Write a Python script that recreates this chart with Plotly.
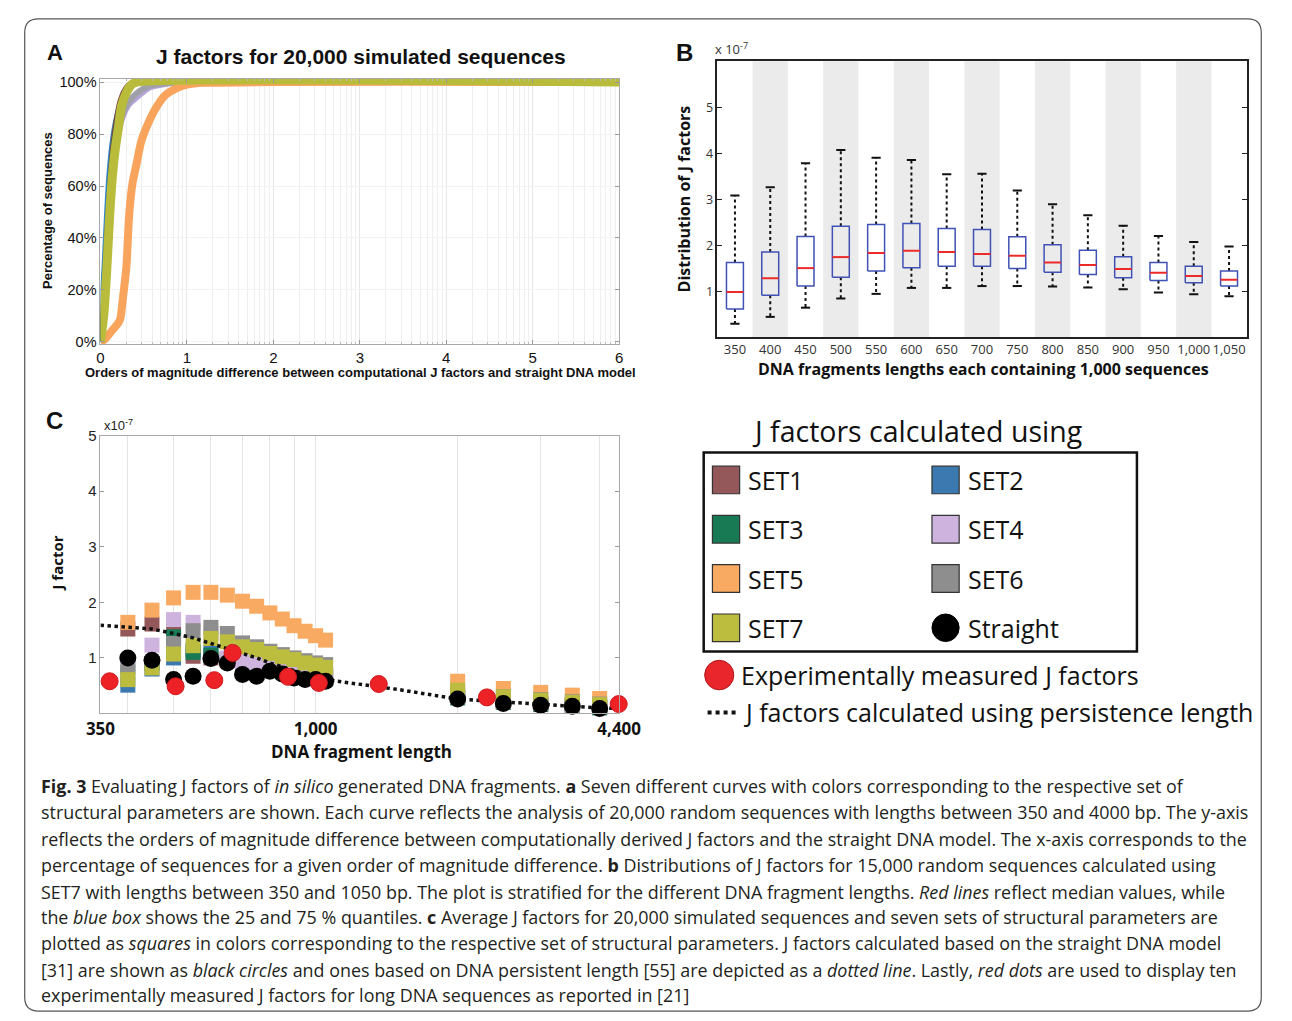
import math
import numpy as np
import plotly.graph_objects as go

W, H = 1292, 1021
def px(v): return v / W
def py(v): return 1 - v / H

SERIF = "Liberation Sans"
HUM = "Open Sans"

# ---------------- Panel A data (cumulative % of sequences) ----------------
a_set1_x = [0, 0.02, 0.05, 0.08, 0.11, 0.14, 0.18, 0.22, 0.28, 0.35, 6]
a_set1_y = [0, 8, 25, 45, 62, 75, 85, 92, 97, 99.5, 100]
a_set2_x = [0, 0.005, 0.03, 0.057, 0.083, 0.12, 0.17, 0.245, 0.34, 0.45, 6]
a_set2_y = [0, 15, 29, 48, 63, 76, 86, 94, 99, 100, 100]
a_set3_x = [0, 0.03, 0.06, 0.09, 0.12, 0.15, 0.19, 0.23, 0.28, 0.34, 0.4, 6]
a_set3_y = [0, 12, 30, 49, 64, 75, 84, 91, 96, 99, 100, 100]
a_set4_x = [0, 0.04, 0.07, 0.1, 0.13, 0.17, 0.21, 0.26, 0.32, 0.38, 0.45, 0.57, 0.7, 0.9, 6]
a_set4_y = [0, 10, 27, 45, 60, 72, 81, 87, 91, 93, 95, 98, 99, 99.8, 100]
a_set5_x = [0, 0.05, 0.1, 0.15, 0.2, 0.23, 0.26, 0.3, 0.33, 0.37, 0.42, 0.47, 0.55, 0.64, 0.75, 0.87, 1.0, 1.2, 6]
a_set5_y = [0, 1, 3, 5, 7, 9, 17, 29, 48, 61, 69, 77, 84, 90, 95, 97.5, 99, 99.7, 100]
a_set6_x = [0, 0.04, 0.07, 0.1, 0.13, 0.17, 0.21, 0.26, 0.32, 0.38, 0.45, 0.55, 0.7, 0.9, 6]
a_set6_y = [0, 11, 28, 46, 61, 73, 82, 88, 92, 94.5, 96.5, 98.3, 99.3, 99.8, 100]
a_set7_x = [0, 0.04, 0.075, 0.105, 0.136, 0.17, 0.21, 0.245, 0.30, 0.36, 0.415, 6]
a_set7_y = [0, 11, 29, 48, 63, 74, 83, 91, 96, 99, 100, 100]
a_xticks = [0, 1, 2, 3, 4, 5, 6]
a_yticks = [0, 20, 40, 60, 80, 100]

# ---------------- Panel B data (x 1e-7) ----------------
b_labels = ["350", "400", "450", "500", "550", "600", "650", "700", "750", "800",
            "850", "900", "950", "1,000", "1,050"]
b_upper = [3.08, 3.26, 3.78, 4.07, 3.90, 3.85, 3.54, 3.55, 3.19, 2.89, 2.65, 2.42, 2.20, 2.07, 1.97]
b_q3 = [1.62, 1.85, 2.19, 2.41, 2.45, 2.47, 2.36, 2.34, 2.18, 2.01, 1.89, 1.75, 1.62, 1.54, 1.44]
b_median = [0.98, 1.28, 1.50, 1.74, 1.83, 1.88, 1.85, 1.81, 1.77, 1.62, 1.57, 1.48, 1.40, 1.33, 1.25]
b_q1 = [0.61, 0.91, 1.11, 1.30, 1.44, 1.51, 1.54, 1.54, 1.49, 1.41, 1.36, 1.29, 1.23, 1.18, 1.11]
b_lower = [0.29, 0.44, 0.64, 0.84, 0.94, 1.07, 1.07, 1.11, 1.11, 1.10, 1.08, 1.04, 0.97, 0.93, 0.89]
b_yticks = [1, 2, 3, 4, 5]

# ---------------- Panel C data (x 1e-7) ----------------
c_x = [350, 400, 450, 500, 550, 600, 650, 700, 750, 800, 850, 900, 950, 1000, 1050,
       2000, 2500, 3000, 3500, 4000]
c_set1 = [1.40, 1.52, 1.61, 1.50, 1.03, 1.00, 0.95, 0.88, 0.84, 0.80, 0.76, 0.72, 0.70, 0.68, 0.66,
          0.30, 0.21, 0.17, 0.14, 0.11]
c_set2 = [0.65, 0.51, 0.80, 1.00, 1.15, 1.10, 0.98, 0.91, 0.88, 0.85, 0.80, 0.76, 0.73, 0.70, 0.68,
          0.30, 0.22, 0.18, 0.15, 0.12]
c_set3 = [1.15, 0.84, 0.90, 1.38, 1.10, 1.05, 0.98, 0.90, 0.85, 0.80, 0.75, 0.70, 0.66, 0.64, 0.62,
          0.28, 0.20, 0.16, 0.13, 0.10]
c_set4 = [0.88, 0.95, 1.23, 1.69, 1.64, 1.45, 1.00, 0.93, 0.92, 0.88, 0.80, 0.75, 0.72, 0.70, 0.68,
          0.30, 0.22, 0.18, 0.15, 0.12]
c_set5 = [1.52, 1.64, 1.86, 2.08, 2.18, 2.18, 2.13, 2.02, 1.93, 1.81, 1.70, 1.58, 1.48, 1.40, 1.32,
          0.58, 0.45, 0.38, 0.33, 0.27]
c_set6 = [1.38, 0.75, 0.90, 1.26, 1.49, 1.55, 1.44, 1.27, 1.20, 1.12, 1.06, 1.00, 0.95, 0.91, 0.88,
          0.40, 0.30, 0.25, 0.21, 0.17]
c_set7 = [0.50, 0.61, 0.82, 1.07, 1.22, 1.35, 1.29, 1.20, 1.15, 1.08, 1.02, 0.97, 0.91, 0.87, 0.83,
          0.42, 0.30, 0.24, 0.20, 0.16]
c_straight = [0.35, 1.00, 0.96, 0.61, 0.67, 0.99, 0.91, 0.70, 0.67, 0.76, 0.71, 0.64, 0.61, 0.61, 0.58,
              0.26, 0.18, 0.15, 0.13, 0.09]
c_exp_x = [366, 505, 610, 667, 874, 1016, 1361, 2307, 4390]
c_exp_y = [0.58, 0.49, 0.60, 1.09, 0.66, 0.55, 0.53, 0.29, 0.17]
c_pl_x = [350, 400, 450, 500, 550, 600, 650, 700, 750, 800, 850, 900, 950, 1000, 1050,
          1500, 2000, 2500, 3000, 3500, 4000, 4400]
c_pl_y = [1.59, 1.55, 1.52, 1.44, 1.36, 1.26, 1.17, 1.09, 1.00, 0.91, 0.84, 0.77, 0.70, 0.65, 0.61,
          0.43, 0.26, 0.21, 0.16, 0.13, 0.10, 0.09]
c_xtickvals = [350, 1000, 4400]
c_xticktext = ["350", "1,000", "4,400"]
c_yticks = [1, 2, 3, 4, 5]

set_names = ["SET1", "SET2", "SET3", "SET4", "SET5", "SET6", "SET7"]
set_colors = ["#94575a", "#3c79b0", "#177a54", "#cdb3dd", "#f9aa62", "#8e8e8e", "#bcbd3f"]
a_line_colors = ["#7e4345", "#2f86c8", "#1b7a4e", "#b6a4d8", "#f8a45c", "#a0a0a8", "#b8bc3a"]

fig = go.Figure()

# ---------------- Panel A traces ----------------
a_data = {
    "SET1": (a_set1_x, a_set1_y), "SET2": (a_set2_x, a_set2_y), "SET3": (a_set3_x, a_set3_y),
    "SET4": (a_set4_x, a_set4_y), "SET5": (a_set5_x, a_set5_y), "SET6": (a_set6_x, a_set6_y),
    "SET7": (a_set7_x, a_set7_y),
}
a_widths = {"SET1": 5, "SET2": 3, "SET3": 5, "SET4": 6, "SET5": 8, "SET6": 6, "SET7": 9}
for name in ["SET4", "SET6", "SET5", "SET2", "SET1", "SET3", "SET7"]:
    i = set_names.index(name)
    xs, ys = a_data[name]
    fig.add_trace(go.Scatter(x=xs, y=ys, mode="lines", name=name, showlegend=False,
                             line=dict(color=a_line_colors[i], width=a_widths[name],
                                       shape="spline", smoothing=0.6),
                             xaxis="x", yaxis="y", hoverinfo="skip"))

# ---------------- Panel B traces ----------------
idx = list(range(len(b_labels)))
hw, cw = 0.24, 0.13
box_x, box_y, med_x, med_y, wh_x, wh_y, cap_x, cap_y = [], [], [], [], [], [], [], []
for i in idx:
    box_x += [i - hw, i + hw, i + hw, i - hw, i - hw, None]
    box_y += [b_q1[i], b_q1[i], b_q3[i], b_q3[i], b_q1[i], None]
    med_x += [i - hw, i + hw, None]
    med_y += [b_median[i], b_median[i], None]
    wh_x += [i, i, None, i, i, None]
    wh_y += [b_q3[i], b_upper[i], None, b_q1[i], b_lower[i], None]
    cap_x += [i - cw, i + cw, None, i - cw, i + cw, None]
    cap_y += [b_upper[i], b_upper[i], None, b_lower[i], b_lower[i], None]
fig.add_trace(go.Scatter(x=wh_x, y=wh_y, mode="lines", line=dict(color="#111", width=2, dash="dot"),
                         xaxis="x2", yaxis="y2", showlegend=False, hoverinfo="skip"))
fig.add_trace(go.Scatter(x=cap_x, y=cap_y, mode="lines", line=dict(color="#111", width=2),
                         xaxis="x2", yaxis="y2", showlegend=False, hoverinfo="skip"))
fig.add_trace(go.Scatter(x=box_x, y=box_y, mode="lines", line=dict(color="#3f51b5", width=1.5),
                         xaxis="x2", yaxis="y2", showlegend=False, hoverinfo="skip"))
fig.add_trace(go.Scatter(x=med_x, y=med_y, mode="lines", line=dict(color="#ec2a2a", width=2),
                         xaxis="x2", yaxis="y2", showlegend=False, hoverinfo="skip"))

# ---------------- Panel C traces ----------------
c_sets = [c_set1, c_set2, c_set3, c_set4, c_set5, c_set6, c_set7]
for name, col, vals in zip(set_names, set_colors, c_sets):
    fig.add_trace(go.Scatter(x=c_x, y=vals, mode="markers", name=name, showlegend=False,
                             marker=dict(symbol="square", size=15, color=col, line=dict(width=0)),
                             xaxis="x3", yaxis="y3", cliponaxis=False, hoverinfo="skip"))
fig.add_trace(go.Scatter(x=c_pl_x, y=c_pl_y, mode="lines", showlegend=False,
                         line=dict(color="#111", width=3.5, dash="dot"),
                         xaxis="x3", yaxis="y3", hoverinfo="skip"))
fig.add_trace(go.Scatter(x=c_x, y=c_straight, mode="markers", showlegend=False,
                         marker=dict(size=17, color="#000"),
                         xaxis="x3", yaxis="y3", cliponaxis=False, hoverinfo="skip"))
fig.add_trace(go.Scatter(x=c_exp_x, y=c_exp_y, mode="markers", showlegend=False,
                         marker=dict(size=17, color="#ec2227", line=dict(color="#d0181d", width=1)),
                         xaxis="x3", yaxis="y3", cliponaxis=False, hoverinfo="skip"))

# ---------------- Axes ----------------
a_minor = [k + math.log10(m) for k in range(6) for m in range(2, 10)]
c_minor = [400, 500, 600, 700, 800, 900, 2000, 3000, 4000]

layout = dict(
    width=W, height=H, margin=dict(l=0, r=0, t=0, b=0),
    paper_bgcolor="white", plot_bgcolor="white", showlegend=False,
    xaxis=dict(domain=[px(88), px(622)], range=[0, 6], tickvals=a_xticks, anchor="y",
               showgrid=True, gridcolor="#e6e6e6", gridwidth=1, zeroline=False,
               showline=True, linecolor="#a8a8a8", linewidth=1, mirror="ticks",
               ticks="inside", ticklen=4, tickcolor="#999",
               minor=dict(tickvals=a_minor, showgrid=True, gridcolor="#eeeeee",
                          ticks="inside", ticklen=2, tickcolor="#bbb"),
               tickfont=dict(family=SERIF, size=15, color="#111")),
    yaxis=dict(domain=[py(340), py(71)], range=[-0.8, 101.2], tickvals=a_yticks,
               ticktext=[f"{v}%" for v in a_yticks],
               anchor="x", showgrid=True, gridcolor="#f3f3f3", zeroline=False,
               showline=True, linecolor="#a8a8a8", linewidth=1, mirror="ticks",
               ticks="inside", ticklen=4, tickcolor="#999",
               tickfont=dict(family=SERIF, size=14.5, color="#111")),
    xaxis2=dict(domain=[px(723), px(1268)], range=[-0.5, 14.5], tickvals=idx, ticktext=b_labels,
                anchor="y2", showgrid=False, zeroline=False, showline=True, linecolor="#222",
                linewidth=1.5, mirror=True, ticks="", tickangle=0,
                tickfont=dict(family=HUM, size=13, color="#333")),
    yaxis2=dict(domain=[py(333), py(53)], range=[0, 6], tickvals=b_yticks, anchor="x2",
                showgrid=False, zeroline=False, showline=True, linecolor="#222", linewidth=1.5,
                mirror="ticks", ticks="inside", ticklen=5, tickcolor="#222",
                tickfont=dict(family=HUM, size=12.5, color="#333")),
    xaxis3=dict(domain=[px(88), px(622)], type="log", range=[math.log10(350), math.log10(4400)],
                tickvals=c_xtickvals, ticktext=c_xticktext, anchor="y3",
                showgrid=True, gridcolor="#e4e4e4", zeroline=False,
                showline=True, linecolor="#a8a8a8", linewidth=1, mirror=True, ticks="",
                minor=dict(tickvals=c_minor, showgrid=True, gridcolor="#e4e4e4"),
                tickfont=dict(family=HUM, size=17, color="#111", weight="bold")),
    yaxis3=dict(domain=[py(715), py(433)], range=[0, 5], tickvals=c_yticks, anchor="x3",
                showgrid=False, zeroline=False, showline=True, linecolor="#a8a8a8", linewidth=1,
                mirror="ticks", ticks="inside", ticklen=4, tickcolor="#999",
                tickfont=dict(family=SERIF, size=15, color="#222")),
)

annotations = []
def ann(text, x, y, size, family=HUM, color="#111", xanchor="center", yanchor="middle",
        textangle=0, bold=False):
    annotations.append(dict(text=(f"<b>{text}</b>" if bold else text), x=px(x), y=py(y),
                            xref="paper", yref="paper", showarrow=False, xanchor=xanchor,
                            yanchor=yanchor, textangle=textangle,
                            font=dict(family=family, size=size, color=color)))

# Panel labels & titles
ann("A", 41, 44, 22, SERIF, bold=True)
ann("B", 689, 44, 24, SERIF, bold=True)
ann("C", 41, 418, 24, SERIF, bold=True)
ann("J factors for 20,000 simulated sequences", 356, 48, 21, SERIF, bold=True)
ann("Orders of magnitude difference between computational J factors and straight DNA model",
    356, 369, 13, SERIF, bold=True)
ann("Percentage of sequences", 34, 205, 13, SERIF, textangle=-90, bold=True)
ann("x 10<sup>-7</sup>", 719, 40, 13, HUM, color="#333", xanchor="left")
ann("Distribution of J factors", 689, 193, 16, HUM, textangle=-90, bold=True)
ann("DNA fragments lengths each containing 1,000 sequences", 997, 365, 16, HUM, bold=True)
ann("x10<sup>-7</sup>", 90, 422, 13, SERIF, color="#222", xanchor="left")
ann("J factor", 43, 563, 15, HUM, textangle=-90, bold=True)
ann("DNA fragment length", 357, 754, 17, HUM, bold=True)

# Legend text
ann("J factors calculated using", 757, 428, 28.5, HUM, color="#111", xanchor="left")
leg_rows = [478, 528, 578, 628]
left_names = ["SET1", "SET3", "SET5", "SET7"]
right_names = ["SET2", "SET4", "SET6", "Straight"]
for r, ln, rn in zip(leg_rows, left_names, right_names):
    ann(ln, 753, r, 25, HUM, xanchor="left")
    ann(rn, 979, r, 25, HUM, xanchor="left")
ann("Experimentally measured J factors", 745, 676, 25, HUM, xanchor="left")
ann("J factors calculated using persistence length", 748, 713, 25, HUM, xanchor="left")

# Caption
cap_lines = [
    "<b>Fig. 3</b> Evaluating J factors of <i>in silico</i> generated DNA fragments. <b>a</b> Seven different curves with colors corresponding to the respective set of",
    "structural parameters are shown. Each curve reflects the analysis of 20,000 random sequences with lengths between 350 and 4000 bp. The y-axis",
    "reflects the orders of magnitude difference between computationally derived J factors and the straight DNA model. The x-axis corresponds to the",
    "percentage of sequences for a given order of magnitude difference. <b>b</b> Distributions of J factors for 15,000 random sequences calculated using",
    "SET7 with lengths between 350 and 1050 bp. The plot is stratified for the different DNA fragment lengths. <i>Red lines</i> reflect median values, while",
    "the <i>blue box</i> shows the 25 and 75 % quantiles. <b>c</b> Average J factors for 20,000 simulated sequences and seven sets of structural parameters are",
    "plotted as <i>squares</i> in colors corresponding to the respective set of structural parameters. J factors calculated based on the straight DNA model",
    "[31] are shown as <i>black circles</i> and ones based on DNA persistent length [55] are depicted as a <i>dotted line</i>. Lastly, <i>red dots</i> are used to display ten",
    "experimentally measured J factors for long DNA sequences as reported in [21]",
]
cap_y = [789, 815, 842, 869, 896, 922, 948, 975, 1001]
for t, yy in zip(cap_lines, cap_y):
    ann(t, 25, yy, 17.9, HUM, color="#231f20", xanchor="left")

layout["annotations"] = annotations

# Shapes
shapes = []
for i in idx:
    if i % 2 == 1:
        shapes.append(dict(type="rect", xref="x2", yref="y2 domain", x0=i - 0.5, x1=i + 0.5,
                           y0=0, y1=1, fillcolor="#ebebeb", line=dict(width=0), layer="below"))

def rect_px(x0, y0, x1, y1, fill, lc="#333", lw=1.5):
    shapes.append(dict(type="rect", xref="paper", yref="paper", x0=px(x0), x1=px(x1),
                       y0=py(y1), y1=py(y0), fillcolor=fill, line=dict(color=lc, width=lw)))

# legend box
rect_px(709, 450, 1155, 652, "rgba(0,0,0,0)", "#111", 2.5)
left_cols = [set_colors[0], set_colors[2], set_colors[4], set_colors[6]]
right_cols = [set_colors[1], set_colors[3], set_colors[5]]
for r, c in zip(leg_rows, left_cols):
    rect_px(718, r - 14, 746, r + 14, c, "#333", 1.2)
for r, c in zip(leg_rows[:3], right_cols):
    rect_px(944, r - 14, 972, r + 14, c, "#333", 1.2)
shapes.append(dict(type="circle", xref="paper", yref="paper", x0=px(944), x1=px(972),
                   y0=py(642), y1=py(614), fillcolor="#000", line=dict(color="#000", width=1)))
shapes.append(dict(type="circle", xref="paper", yref="paper", x0=px(710), x1=px(740),
                   y0=py(691), y1=py(661), fillcolor="#e8262b", line=dict(color="#b01519", width=1)))
shapes.append(dict(type="line", xref="paper", yref="paper", x0=px(713), x1=px(742),
                   y0=py(714), y1=py(714), line=dict(color="#111", width=4, dash="dot")))

# outer rounded border
r = 14
L, T, R, B = 10, 10, 1283, 1017
path = (f"M {px(L + r)},{py(T)} L {px(R - r)},{py(T)} Q {px(R)},{py(T)} {px(R)},{py(T + r)} "
        f"L {px(R)},{py(B - r)} Q {px(R)},{py(B)} {px(R - r)},{py(B)} "
        f"L {px(L + r)},{py(B)} Q {px(L)},{py(B)} {px(L)},{py(B - r)} "
        f"L {px(L)},{py(T + r)} Q {px(L)},{py(T)} {px(L + r)},{py(T)} Z")
shapes.append(dict(type="path", xref="paper", yref="paper", path=path,
                   line=dict(color="#555", width=1.2)))

layout["shapes"] = shapes
fig.update_layout(**layout)

fig.write_html("out.html", config={"displayModeBar": False},
               post_script="document.body.style.margin='0';document.body.style.overflow='hidden';")
